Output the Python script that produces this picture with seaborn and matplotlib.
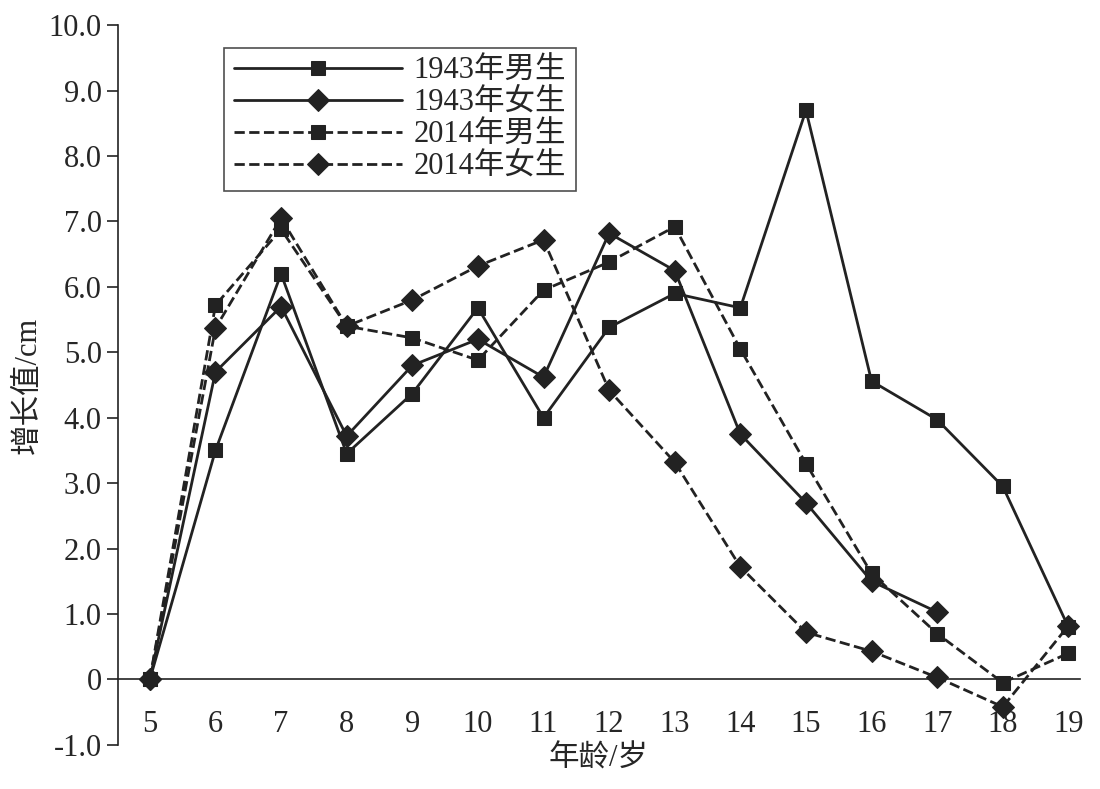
import numpy as np
import pandas as pd
import seaborn as sns
import matplotlib.pyplot as plt
from matplotlib.ticker import FixedLocator

ages = list(range(5, 20))
male_1943 = [0, 3.5, 6.2, 3.45, 4.37, 5.68, 4.0, 5.38, 5.9, 5.68, 8.7, 4.56, 3.97, 2.95, 0.8]
female_1943 = [0, 4.7, 5.7, 3.72, 4.8, 5.2, 4.62, 6.82, 6.25, 3.75, 2.7, 1.5, 1.03]
male_2014 = [0, 5.72, 6.88, 5.4, 5.22, 4.88, 5.95, 6.38, 6.92, 5.05, 3.3, 1.62, 0.7, -0.05, 0.4]
female_2014 = [0, 5.37, 7.05, 5.4, 5.8, 6.32, 6.72, 4.42, 3.32, 1.72, 0.72, 0.43, 0.03, -0.42, 0.82]

series = [
    ("1943年男生", male_1943, "s", "-"),
    ("1943年女生", female_1943, "D", "-"),
    ("2014年男生", male_2014, "s", "--"),
    ("2014年女生", female_2014, "D", "--"),
]

sns.set_theme(style="white")
plt.rcParams['font.family'] = ['Liberation Serif', 'Noto Sans CJK SC']

fig = plt.figure(figsize=(11, 7.89), dpi=100)
ax = fig.add_axes([0.107, 0.056, 0.875, 0.912])

for name, vals, mk, ls in series:
    df = pd.DataFrame({"age": ages[:len(vals)], "v": vals})
    sns.lineplot(data=df, x="age", y="v", ax=ax, color="#222222", linestyle=ls,
                 linewidth=2, marker=mk, markersize=10 if mk == "s" else 11,
                 markeredgecolor="#222222", label=name)

ax.set_xlim(4.51, 19.18)
ax.set_ylim(-1.0, 10.0)
ax.set_yticks(np.arange(-1, 10.5, 1))
ax.set_yticklabels(["-1.0", "0"] + [f"{v:.1f}" for v in range(1, 11)])
ax.set_xticks(ages)
ax.set_xticklabels([str(a) for a in ages])
ax.xaxis.set_minor_locator(FixedLocator(np.arange(4.5, 19.2, 1)))
ax.tick_params(axis="x", which="major", length=0, pad=22, labelsize=22)
ax.tick_params(axis="x", which="minor", length=10, width=1.2, direction="out", color="#222222")
ax.tick_params(axis="y", length=8, width=1.2, direction="out", color="#222222", left=True, labelsize=22)
for s in ["top", "right"]:
    ax.spines[s].set_visible(False)
ax.spines["bottom"].set_position(("data", 0))
for s in ["left", "bottom"]:
    ax.spines[s].set_color("#222222")
    ax.spines[s].set_linewidth(1.2)
ax.set_xlabel("年龄/岁", fontsize=22)
ax.set_ylabel("增长值/cm", fontsize=22)
ax.xaxis.set_label_coords(0.5, 0.0)

leg = ax.legend(loc="upper left", bbox_to_anchor=(0.095, 0.99), fontsize=22,
                frameon=True, fancybox=False, handlelength=5.5, borderpad=0.3,
                labelspacing=0.1, handletextpad=0.4)
leg.get_frame().set_edgecolor("#222222")
leg.get_frame().set_linewidth(1.2)

fig.savefig("out.png", dpi=100)
